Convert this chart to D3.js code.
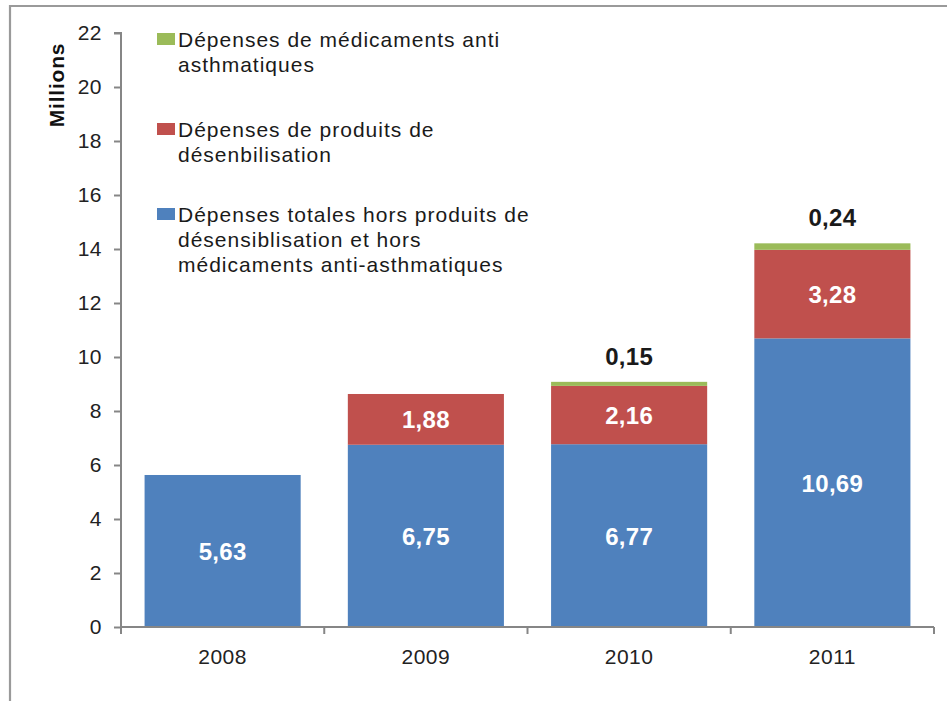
<!DOCTYPE html>
<html>
<head>
<meta charset="utf-8">
<script src="https://cdn.jsdelivr.net/npm/d3@7"></script>
<style>
  html, body { margin: 0; padding: 0; background: #fff; }
  svg { display: block; font-family: "Liberation Sans", Arial, sans-serif; }
</style>
</head>
<body>
<svg id="chart" width="947" height="701"></svg>
<script>
// ---- data ----
const years = ["2008", "2009", "2010", "2011"];
const totalHors = [5.63, 6.75, 6.77, 10.69];      // blue
const desensibilisation = [0, 1.88, 2.16, 3.28]; // red
const antiAsthma = [0, 0, 0.15, 0.24];           // green
const yTicks = [0, 2, 4, 6, 8, 10, 12, 14, 16, 18, 20, 22];
const seriesNames = [
  ["Dépenses de médicaments anti", "asthmatiques"],
  ["Dépenses de produits de", "désenbilisation"],
  ["Dépenses totales hors produits de", "désensiblisation et hors", "médicaments anti-asthmatiques"]
];
const colors = ["#9BBB59", "#C0504D", "#4F81BD"];

const svg = d3.select("#chart");

// frame
svg.append("path")
  .attr("d", "M10,701 L10,6 L947,6")
  .attr("fill", "none").attr("stroke", "#9a9a9a").attr("stroke-width", 2.2);

const x = d3.scaleBand().domain(years).range([121, 934]).paddingInner(0.232).paddingOuter(0.116);
const y = d3.scaleLinear().domain([0, 22]).range([627, 33]);

const rows = years.map((yr, i) => ({ year: yr, blue: totalHors[i], red: desensibilisation[i], green: antiAsthma[i] }));
const stack = d3.stack().keys(["blue", "red", "green"])(rows);
const colorOf = { blue: "#4F81BD", red: "#C0504D", green: "#9BBB59" };

// bars
stack.forEach(layer => {
  svg.append("g").selectAll("rect").data(layer.filter(d => d[1] - d[0] > 0)).join("rect")
    .attr("x", d => x(d.data.year))
    .attr("width", x.bandwidth())
    .attr("y", d => y(d[1]))
    .attr("height", d => y(d[0]) - y(d[1]))
    .attr("fill", colorOf[layer.key]);
});

// axes
const axisColor = "#868686";
const yAxis = svg.append("g").attr("transform", "translate(121,0)")
  .call(d3.axisLeft(y).tickValues(yTicks).tickSize(7).tickPadding(12).tickFormat(d3.format("d")));
yAxis.select(".domain").attr("stroke", axisColor).attr("stroke-width", 2).attr("d", `M-7,${y(22)}H0V${y(0)}`);
yAxis.selectAll(".tick line").attr("stroke", axisColor).attr("stroke-width", 2);
yAxis.selectAll(".tick text").attr("font-size", 21).attr("fill", "#222").attr("letter-spacing", 0.5)
  .attr("font-family", "Liberation Sans, Arial, sans-serif");

const xAxis = svg.append("g").attr("transform", "translate(0,627)")
  .call(d3.axisBottom(x).tickSize(0).tickPadding(22));
xAxis.select(".domain").attr("stroke", axisColor).attr("stroke-width", 2).attr("d", `M121,0H934`);
xAxis.selectAll(".tick text").attr("font-size", 21).attr("fill", "#222").attr("letter-spacing", 0.5)
  .attr("font-family", "Liberation Sans, Arial, sans-serif");
// boundary ticks
const bounds = d3.range(years.length + 1).map(i => x.range()[0] + i * x.step());
xAxis.selectAll("line.bt").data(bounds).join("line").attr("class", "bt")
  .attr("x1", d => d).attr("x2", d => d).attr("y1", 0).attr("y2", 7)
  .attr("stroke", axisColor).attr("stroke-width", 2);

// y title
svg.append("text")
  .attr("transform", "translate(64,85) rotate(-90)")
  .attr("text-anchor", "middle")
  .attr("font-size", 21).attr("font-weight", "bold").attr("letter-spacing", 0.8)
  .attr("fill", "#111")
  .text("Millions");

// value labels
const fmt = v => v.toFixed(2).replace(".", ",");
stack.forEach(layer => {
  const inside = layer.key !== "green";
  svg.append("g").selectAll("text").data(layer.filter(d => d[1] - d[0] > 0)).join("text")
    .attr("x", d => x(d.data.year) + x.bandwidth() / 2)
    .attr("y", d => inside ? (y(d[0]) + y(d[1])) / 2 + 9 : y(d[1]) - 17)
    .attr("text-anchor", "middle")
    .attr("font-size", 24).attr("font-weight", "bold").attr("letter-spacing", 0.3)
    .attr("fill", inside ? "#fff" : "#1a1a1a")
    .text(d => fmt(d[1] - d[0]));
});

// legend
const legendTop = [47, 137, 222];
const lg = svg.append("g");
seriesNames.forEach((lines, i) => {
  lg.append("rect").attr("x", 157).attr("y", legendTop[i] - 14).attr("width", 18).attr("height", 12)
    .attr("fill", colors[i]);
  const t = lg.append("text").attr("x", 178).attr("y", legendTop[i])
    .attr("font-size", 21).attr("letter-spacing", 1.0).attr("fill", "#1a1a1a");
  lines.forEach((ln, j) => {
    t.append("tspan").attr("x", 178).attr("y", legendTop[i] + j * 25).text(ln);
  });
});
</script>
</body>
</html>
